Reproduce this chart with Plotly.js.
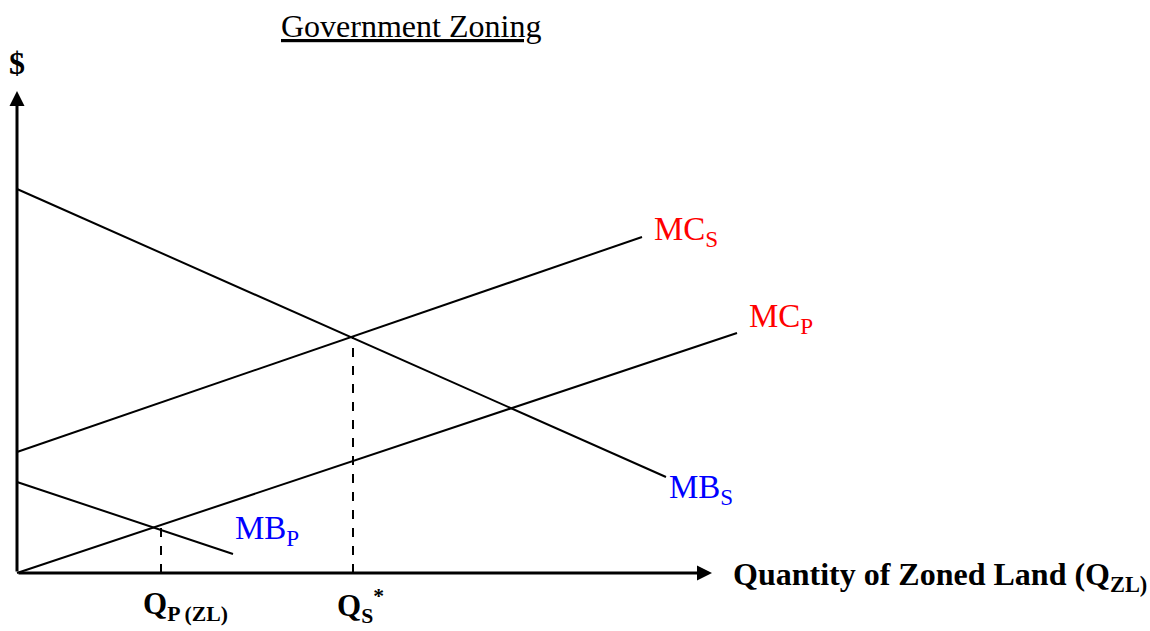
<!DOCTYPE html>
<html>
<head>
<meta charset="utf-8">
<script src="https://cdn.plot.ly/plotly-3.0.1.min.js"></script>
<style>html,body{margin:0;padding:0;background:#fff;}#chart{width:1150px;height:631px;}</style>
</head>
<body>
<div id="chart"></div>
<script>
// Quantity (x) and price (y) values (arbitrary units)
const qMBS = [0, 649];
const pMBS = [384, 96];
const qMCS = [0, 625];
const pMCS = [121, 336];
const qMCP = [0, 720];
const pMCP = [0, 240];
const qMBP = [0, 216];
const pMBP = [91, 19];
const qStar = 336, pStar = 237;   // social optimum Qs*
const qPriv = 144, pPriv = 48;    // private quantity Qp(ZL)
const xAxisEnd = 695, yAxisEnd = 482;

const SERIF = "Liberation Serif, Times New Roman, serif";
const lineStyle = {color: "#000", width: 2};

const traces = [
  {x: qMBS, y: pMBS, mode: "lines", line: lineStyle, hoverinfo: "skip"},
  {x: qMCS, y: pMCS, mode: "lines", line: lineStyle, hoverinfo: "skip"},
  {x: qMCP, y: pMCP, mode: "lines", line: lineStyle, hoverinfo: "skip"},
  {x: qMBP, y: pMBP, mode: "lines", line: lineStyle, hoverinfo: "skip"},
  {x: [qStar, qStar], y: [0, pStar], mode: "lines", line: {color: "#000", width: 2, dash: "dash"}, hoverinfo: "skip"},
  {x: [qPriv, qPriv], y: [0, pPriv], mode: "lines", line: {color: "#000", width: 2, dash: "dash"}, hoverinfo: "skip"}
];

function label(text, x, baseline, size, color, bold, anchor) {
  return {
    text: bold ? "<b>" + text + "</b>" : text,
    x: x, y: baseline + 0.34 * size, xref: "x", yref: "y",
    xanchor: anchor || "left", yanchor: "middle",
    showarrow: false, borderpad: 0,
    font: {family: SERIF, size: size, color: color}
  };
}

const annotations = [
  // axes with arrowheads
  {x: xAxisEnd, y: 0, ax: 0, ay: 0, xref: "x", yref: "y", axref: "x", ayref: "y",
   text: "", showarrow: true, arrowhead: 2, arrowsize: 1, arrowwidth: 3, arrowcolor: "#000"},
  {x: 0, y: yAxisEnd, ax: 0, ay: 0, xref: "x", yref: "y", axref: "x", ayref: "y",
   text: "", showarrow: true, arrowhead: 2, arrowsize: 1, arrowwidth: 3, arrowcolor: "#000"},
  label("<u>Government Zoning</u>", 394, 536, 32, "#000", false, "center"),
  label("$", 0, 499, 32, "#000", true, "center"),
  label("MC<sub>S</sub>", 636, 330, 33, "#FF0000", false),
  label("MC<sub>P</sub>", 731, 243, 33, "#FF0000", false),
  label("MB<sub>S</sub>", 651, 72, 33, "#0000FF", false),
  label("MB<sub>P</sub>", 217, 31, 33, "#0000FF", false),
  label("Q<sub>P (ZL)</sub>", 125, -44, 31, "#000", true),
  label("Q<sub>S</sub><sup>*</sup>", 319, -44, 31, "#000", true),
  label("Quantity of Zoned Land (Q<sub>ZL)</sub>", 715, -14, 32, "#000", true)
];

const layout = {
  width: 1150, height: 631,
  margin: {l: 0, r: 0, t: 0, b: 0, pad: 0},
  paper_bgcolor: "#fff", plot_bgcolor: "#fff",
  showlegend: false,
  xaxis: {range: [-17, 1133], visible: false, fixedrange: true},
  yaxis: {range: [-58, 573], visible: false, fixedrange: true},
  annotations: annotations
};

Plotly.newPlot("chart", traces, layout, {staticPlot: true, displayModeBar: false});
</script>
</body>
</html>
